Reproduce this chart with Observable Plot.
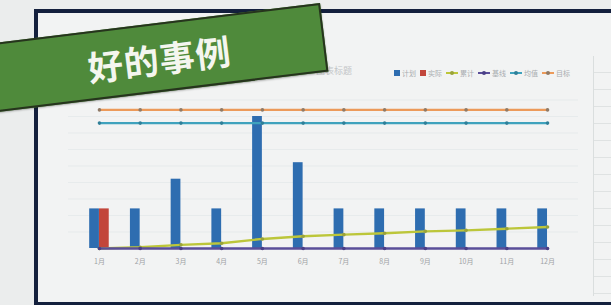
<!DOCTYPE html>
<html><head><meta charset="utf-8">
<script src="https://cdn.jsdelivr.net/npm/d3@7"></script>
<script src="https://cdn.jsdelivr.net/npm/@observablehq/plot@0.6"></script>
<style>
body{margin:0;background:#eceeee;}
#stage{position:relative;width:611px;height:305px;overflow:hidden;background:#ebeded;font-family:"Noto Sans CJK SC","Noto Sans",sans-serif;}
#frame{position:absolute;left:34px;top:9px;width:620px;height:289px;border:4px solid #14203d;border-right:none;background:#f2f3f3;}
#sheet{position:absolute;left:593px;top:56px;width:30px;height:240px;border-left:1px solid #dadede;
  background:repeating-linear-gradient(to bottom,transparent 0,transparent 16px,#dfe2e2 16px,#dfe2e2 17px);}
#chart{position:absolute;left:0;top:0;}
#title{position:absolute;left:316px;top:64px;font-size:9px;color:#c2c5c7;}
#legend{position:absolute;left:394px;top:68px;display:flex;align-items:center;font-size:7px;color:#a9adb0;white-space:nowrap;}
#legend .it{display:flex;align-items:center;margin-right:4px;}
#legend .sw{width:6px;height:6px;margin-right:2px;}
#legend .ln{position:relative;width:12px;height:2px;margin-right:2px;}
#legend .ln i{position:absolute;left:4px;top:-1.5px;width:4px;height:4px;border-radius:50%;}
#banner{position:absolute;left:-20px;top:3px;width:340px;height:69px;background:#4f8a3b;border:2px solid #26341d;box-sizing:border-box;
  transform-origin:100% 0;transform:rotate(-7deg);box-shadow:0 1px 2px rgba(0,0,0,.3);}
#banner span{position:absolute;left:100px;top:15px;font-size:35px;line-height:1;color:#f4f6ef;font-weight:700;letter-spacing:1px;}
</style></head><body>
<div id="stage">
  <div id="frame"></div>
  <div id="sheet"></div>
  <div id="chart"></div>
  <div id="title">图表标题</div>
  <div id="legend"></div>
  <div id="banner"><span>好的事例</span></div>
</div>
<script>
// ---- data ----
const months = ["1月","2月","3月","4月","5月","6月","7月","8月","9月","10月","11月","12月"];
const seriesNames = ["计划","实际","累计","基线","均值","目标"];
const planned    = [12, 12, 21, 12, 40, 26, 12, 12, 12, 12, 12, 12];
const actual     = [12, 0, 0, 0, 0, 0, 0, 0, 0, 0, 0, 0];
const cumulative = [0, 0.4, 1.1, 1.6, 2.9, 3.7, 4.2, 4.6, 5.2, 5.5, 6.0, 6.5];
const baseline   = [0, 0, 0, 0, 0, 0, 0, 0, 0, 0, 0, 0];
const average    = [38, 38, 38, 38, 38, 38, 38, 38, 38, 38, 38, 38];
const target     = [42, 42, 42, 42, 42, 42, 42, 42, 42, 42, 42, 42];
const gridTicks  = [5, 10, 15, 20, 25, 30, 35, 40, 45];

const colors = ["#2e6db0","#c2463b","#bcc63a","#5a4e99","#3fa2bd","#ec9a5a"];
const markerColors = ["","", "#9aa33a","#4a3f86","#2f7f98","#8f7a66"];

const rows = months.map((m, i) => ({
  m, planned: planned[i], actual: actual[i], cumulative: cumulative[i],
  baseline: baseline[i], average: average[i], target: target[i]
}));

const lineMarks = [];
[["average",4],["target",5],["cumulative",2],["baseline",3]].forEach(([k, ci]) => {
  lineMarks.push(Plot.line(rows, {x: "m", y: k, stroke: colors[ci], strokeWidth: 2.4}));
  lineMarks.push(Plot.dot(rows, {x: "m", y: k, r: 1.8, fill: markerColors[ci], stroke: "none"}));
});

const chart = Plot.plot({
  width: 611, height: 305,
  marginLeft: 68, marginRight: 33, marginTop: 99.5, marginBottom: 57,
  style: {background: "transparent", fontSize: "7px", color: "#9ea2a5", fontFamily: "'Noto Sans CJK SC', sans-serif"},
  x: {domain: months, padding: 0.52, round: false, label: null, tickSize: 0, tickPadding: 11},
  y: {domain: [0, 45], axis: null},
  marks: [
    Plot.ruleY(gridTicks, {stroke: "#e3e6e8", strokeWidth: 0.7}),
    Plot.barY(rows, {x: "m", y: "planned", fill: colors[0], insetRight: 9.8}),
    Plot.barY(rows.filter(d => d.actual > 0), {x: "m", y: "actual", fill: colors[1], insetLeft: 9.8}),
    ...lineMarks
  ]
});
document.getElementById("chart").appendChild(chart);

// legend
const leg = document.getElementById("legend");
seriesNames.forEach((name, i) => {
  const it = document.createElement("div");
  it.className = "it";
  if (i < 2) {
    it.innerHTML = `<span class="sw" style="background:${colors[i]}"></span><span>${name}</span>`;
  } else {
    it.innerHTML = `<span class="ln" style="background:${colors[i]}"><i style="background:${markerColors[i]}"></i></span><span>${name}</span>`;
  }
  leg.appendChild(it);
});
</script>
</body></html>
